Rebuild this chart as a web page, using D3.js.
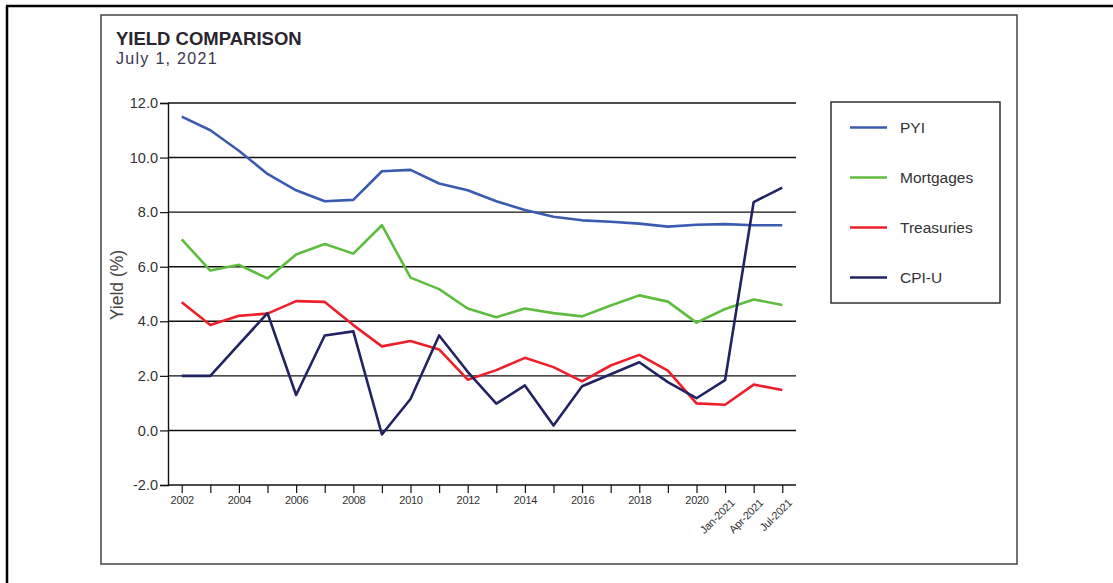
<!DOCTYPE html>
<html>
<head>
<meta charset="utf-8">
<script src="https://cdn.jsdelivr.net/npm/d3@7"></script>
<style>
  body { margin: 0; background: #fff; }
  svg { display: block; font-family: "Liberation Sans", Arial, sans-serif; }
</style>
</head>
<body>
<div id="chart"></div>
<script>
const periods = ["2002","2003","2004","2005","2006","2007","2008","2009","2010","2011",
  "2012","2013","2014","2015","2016","2017","2018","2019","2020","Jan-2021","Apr-2021","Jul-2021"]
const pyi = [11.5,11.0,10.25,9.4,8.8,8.4,8.45,9.5,9.55,9.05,8.8,8.4,8.08,7.83,7.7,7.65,7.58,7.47,7.54,7.56,7.52,7.52]
const mortgages = [7.0,5.86,6.07,5.57,6.45,6.83,6.48,7.52,5.6,5.18,4.47,4.15,4.47,4.3,4.18,4.58,4.95,4.72,3.95,4.45,4.8,4.6]
const treasuries = [4.7,3.86,4.2,4.28,4.74,4.71,3.86,3.08,3.28,2.97,1.86,2.21,2.66,2.32,1.8,2.38,2.77,2.19,0.99,0.94,1.68,1.48]
const cpiu = [2.0,2.0,3.15,4.3,1.3,3.48,3.63,-0.15,1.15,3.48,2.15,0.98,1.65,0.18,1.62,2.06,2.5,1.77,1.18,1.84,8.37,8.9]
const yTicks = [-2, 0, 2, 4, 6, 8, 10, 12]
const xLabelled = ["2002","2004","2006","2008","2010","2012","2014","2016","2018","2020","Jan-2021","Apr-2021","Jul-2021"]

const series = [
  { name: "PYI", values: pyi, color: "#3b5bb0" },
  { name: "Mortgages", values: mortgages, color: "#5dbd3e" },
  { name: "Treasuries", values: treasuries, color: "#ee1f2b" },
  { name: "CPI-U", values: cpiu, color: "#222462" }
]

const W = 1113, H = 583
const svg = d3.select("#chart").append("svg").attr("width", W).attr("height", H)

// outer frame (only top and left edges visible)
svg.append("line").attr("x1", 6).attr("x2", W).attr("y1", 6).attr("y2", 6)
  .attr("stroke", "#000").attr("stroke-width", 2.5)
svg.append("line").attr("x1", 7).attr("x2", 7).attr("y1", 6).attr("y2", H)
  .attr("stroke", "#000").attr("stroke-width", 2.5)

// inner panel
svg.append("rect").attr("x", 101).attr("y", 15).attr("width", 916).attr("height", 549)
  .attr("fill", "none").attr("stroke", "#444").attr("stroke-width", 1.5)

svg.append("text").attr("x", 116).attr("y", 45).text("YIELD COMPARISON")
  .attr("font-size", 18.5).attr("font-weight", "bold").attr("fill", "#2a2530")
svg.append("text").attr("x", 116).attr("y", 64).text("July 1, 2021")
  .attr("font-size", 16).attr("fill", "#3a3550").attr("letter-spacing", 1.3)

const plotLeft = 168, plotRight = 796, plotTop = 103, plotBottom = 485
const x = d3.scalePoint().domain(periods).range([plotLeft, plotRight]).padding(0.48)
const y = d3.scaleLinear().domain([-2, 12]).range([plotBottom, plotTop])

// gridlines
svg.append("g").selectAll("line").data(yTicks).join("line")
  .attr("x1", plotLeft).attr("x2", plotRight)
  .attr("y1", d => y(d)).attr("y2", d => y(d))
  .attr("stroke", "#111").attr("stroke-width", 1.4)

// y axis
const yAxis = svg.append("g").attr("transform", `translate(${plotLeft},0)`)
  .call(d3.axisLeft(y).tickValues(yTicks).tickFormat(d => d.toFixed(1)).tickSize(8).tickPadding(2))
yAxis.select(".domain").attr("stroke", "#111").attr("stroke-width", 1.4)
yAxis.selectAll(".tick line").attr("stroke", "#111").attr("stroke-width", 1.2)
yAxis.selectAll("text").attr("font-size", 14.5).attr("fill", "#333")
  .attr("font-family", "Liberation Sans, Arial, sans-serif")

// x axis
const xAxis = svg.append("g").attr("transform", `translate(0,${plotBottom})`)
  .call(d3.axisBottom(x).tickSize(8).tickFormat(d => xLabelled.includes(d) ? d : ""))
xAxis.select(".domain").remove()
xAxis.selectAll(".tick line").attr("stroke", "#111").attr("stroke-width", 1.2)
xAxis.selectAll("text").attr("font-size", 11).attr("fill", "#333")
  .attr("font-family", "Liberation Sans, Arial, sans-serif")
  .attr("letter-spacing", -0.3)
  .attr("dy", "0.75em")
xAxis.selectAll(".tick").filter(d => d.includes("-")).select("text")
  .attr("text-anchor", "end").attr("x", 0).attr("y", 0).attr("dy", "0.35em")
  .attr("transform", "translate(7,16) rotate(-45)")

svg.append("text").attr("transform", `translate(123,285) rotate(-90)`)
  .attr("text-anchor", "middle").attr("font-size", 17.5).attr("fill", "#444")
  .text("Yield (%)")

// lines
const line = d3.line().x((d, i) => x(periods[i])).y(d => y(d))
svg.append("g").selectAll("path").data(series).join("path")
  .attr("d", d => line(d.values))
  .attr("fill", "none").attr("stroke", d => d.color)
  .attr("stroke-width", 2.6).attr("stroke-linejoin", "round")

// legend
const lg = svg.append("g")
lg.append("rect").attr("x", 831).attr("y", 102).attr("width", 169).attr("height", 201)
  .attr("fill", "#fff").attr("stroke", "#222").attr("stroke-width", 1.4)
const items = lg.selectAll("g.item").data(series).join("g")
  .attr("transform", (d, i) => `translate(850,${127.5 + i * 50})`)
items.append("line").attr("x1", 0).attr("x2", 37)
  .attr("stroke", d => d.color).attr("stroke-width", 2.6)
items.append("text").attr("x", 50).attr("dy", "0.35em").attr("font-size", 15.5)
  .attr("fill", "#333").text(d => d.name)
</script>
</body>
</html>
